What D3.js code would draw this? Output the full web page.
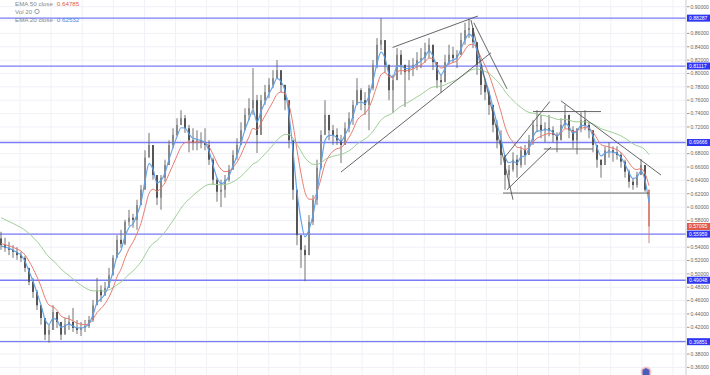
<!DOCTYPE html>
<html><head><meta charset="utf-8">
<script src="https://cdn.jsdelivr.net/npm/d3@7"></script>
<style>body{margin:0;background:#fff;overflow:hidden}svg{display:block;font-family:"Liberation Sans",Arial,sans-serif}</style>
</head><body><svg id="c" width="710" height="375"></svg>
<script>
// ---- data (weekly-ish bars) ----
const firstOpen = 0.553;
const highs = [0.563,0.554,0.548,0.543,0.540,0.533,0.527,0.506,0.494,0.476,0.453,0.431,0.424,0.453,0.443,0.428,0.434,0.438,0.449,0.431,0.428,0.431,0.437,0.461,0.494,0.483,0.488,0.509,0.528,0.558,0.566,0.581,0.596,0.590,0.611,0.633,0.685,0.711,0.671,0.641,0.648,0.671,0.700,0.718,0.733,0.745,0.738,0.723,0.718,0.715,0.712,0.718,0.700,0.674,0.644,0.641,0.648,0.663,0.685,0.703,0.727,0.748,0.763,0.808,0.768,0.768,0.783,0.793,0.805,0.820,0.802,0.778,0.733,0.678,0.611,0.558,0.543,0.588,0.618,0.671,0.715,0.760,0.738,0.723,0.718,0.708,0.727,0.742,0.760,0.793,0.778,0.772,0.783,0.820,0.853,0.883,0.843,0.813,0.798,0.838,0.835,0.813,0.820,0.823,0.832,0.838,0.846,0.853,0.843,0.817,0.798,0.828,0.843,0.840,0.835,0.861,0.876,0.882,0.868,0.843,0.813,0.793,0.775,0.753,0.730,0.715,0.674,0.663,0.682,0.678,0.691,0.693,0.708,0.730,0.745,0.738,0.727,0.738,0.721,0.712,0.733,0.753,0.738,0.721,0.715,0.742,0.745,0.727,0.715,0.691,0.671,0.691,0.697,0.691,0.691,0.682,0.671,0.656,0.644,0.653,0.672,0.662,0.626];
const lows = [0.536,0.533,0.528,0.524,0.521,0.518,0.503,0.483,0.464,0.446,0.424,0.401,0.397,0.428,0.419,0.401,0.410,0.416,0.413,0.410,0.407,0.413,0.419,0.428,0.467,0.458,0.467,0.483,0.498,0.524,0.539,0.543,0.572,0.569,0.566,0.603,0.648,0.678,0.641,0.603,0.596,0.638,0.663,0.688,0.706,0.723,0.711,0.682,0.685,0.685,0.688,0.685,0.663,0.633,0.608,0.600,0.614,0.638,0.656,0.671,0.693,0.715,0.730,0.738,0.681,0.715,0.753,0.763,0.778,0.793,0.772,0.745,0.688,0.611,0.543,0.509,0.489,0.536,0.573,0.603,0.656,0.715,0.700,0.693,0.693,0.666,0.693,0.712,0.723,0.753,0.745,0.738,0.715,0.775,0.808,0.835,0.802,0.760,0.741,0.793,0.798,0.750,0.790,0.796,0.805,0.808,0.816,0.823,0.805,0.778,0.771,0.790,0.813,0.816,0.808,0.828,0.843,0.853,0.838,0.798,0.768,0.760,0.738,0.712,0.688,0.663,0.626,0.629,0.653,0.644,0.659,0.663,0.678,0.693,0.712,0.703,0.697,0.706,0.697,0.682,0.703,0.718,0.703,0.688,0.679,0.712,0.715,0.703,0.682,0.659,0.644,0.668,0.674,0.668,0.671,0.659,0.644,0.629,0.626,0.629,0.650,0.623,0.546];
const closes = [0.543,0.539,0.536,0.533,0.528,0.524,0.509,0.488,0.473,0.453,0.434,0.409,0.416,0.443,0.428,0.409,0.424,0.428,0.419,0.416,0.419,0.422,0.431,0.453,0.476,0.468,0.479,0.498,0.524,0.551,0.545,0.578,0.584,0.581,0.603,0.626,0.674,0.693,0.648,0.614,0.644,0.663,0.693,0.708,0.723,0.733,0.718,0.700,0.696,0.700,0.697,0.693,0.671,0.641,0.623,0.626,0.641,0.656,0.678,0.693,0.715,0.738,0.748,0.760,0.708,0.760,0.772,0.783,0.793,0.805,0.783,0.760,0.700,0.626,0.558,0.536,0.528,0.578,0.611,0.659,0.708,0.738,0.715,0.708,0.700,0.693,0.718,0.733,0.753,0.775,0.760,0.753,0.778,0.813,0.843,0.850,0.813,0.775,0.790,0.828,0.813,0.802,0.808,0.813,0.820,0.823,0.832,0.843,0.817,0.790,0.787,0.817,0.828,0.823,0.828,0.850,0.865,0.868,0.847,0.813,0.783,0.772,0.753,0.723,0.700,0.678,0.648,0.656,0.671,0.663,0.685,0.678,0.700,0.723,0.723,0.715,0.718,0.715,0.708,0.700,0.723,0.738,0.715,0.700,0.718,0.730,0.723,0.715,0.693,0.671,0.663,0.685,0.685,0.682,0.678,0.668,0.653,0.638,0.633,0.648,0.663,0.626,0.571];
const emaPeriods = [20, 50, 200];
const emaSeeds = [0.540, 0.546, 0.587];
const weeksPerBar = 6.6;
const priceTicks = [0.36,0.38,0.40,0.42,0.44,0.46,0.48,0.50,0.52,0.54,0.56,0.58,0.60,0.62,0.64,0.66,0.68,0.70,0.72,0.74,0.76,0.78,0.80,0.82,0.84,0.86,0.88,0.90];
const levels = [0.88287, 0.81117, 0.69666, 0.55959, 0.49048, 0.39851];
const lastPrice = 0.57095;
const gridYears = d3.range(2000, 2022);
// trend lines: [barIndex, price] pairs
const trendLines = [
  [[97.9,0.839],[119.2,0.886]],
  [[85,0.6525],[122.5,0.831]],
  [[117.5,0.880],[128,0.611]],
  [[118.2,0.876],[126.5,0.777]],
  [[125.7,0.673],[137.2,0.758]],
  [[126.5,0.626],[137.5,0.690]],
  [[133,0.743],[150,0.743]],
  [[135.7,0.687],[148,0.687]],
  [[125.5,0.621],[162,0.621]],
  [[140,0.759],[165,0.648]]
];
const legend = [
  {label:"EMA 50 close", value:"0.64785", color:"#e0574f", y:5.5},
  {label:"Vol 20", value:"", color:"#888", y:13.5},
  {label:"EMA 20 close", value:"0.62532", color:"#4a8fe0", y:22}
];

// ---- chart ----
const svg = d3.select("#c");
const W = 710, H = 375, axisX = 686;
const x = d3.scaleLinear().domain([0, closes.length - 1]).range([1, 649]);
const xYear = d3.scaleLinear().domain([2000, 2021]).range([20, 673]);
const y = d3.scaleLinear().domain([0.36, 0.90]).range([367.4, 6.7]);

// grid
svg.append("g").selectAll("line").data(priceTicks).join("line")
  .attr("x1",0).attr("x2",axisX).attr("y1",d=>y(d)).attr("y2",d=>y(d))
  .attr("stroke","#f0f1f6").attr("stroke-width",1);
svg.append("g").selectAll("line").data(gridYears).join("line")
  .attr("x1",d=>xYear(d)).attr("x2",d=>xYear(d)).attr("y1",0).attr("y2",H)
  .attr("stroke","#f0f1f6").attr("stroke-width",1);

// level lines
svg.append("g").selectAll("line").data(levels).join("line")
  .attr("x1",0).attr("x2",axisX).attr("y1",d=>y(d)).attr("y2",d=>y(d))
  .attr("stroke","#7b7cf7").attr("stroke-width",1.3);

// EMA
const emaColors = ["#5f9fe6","#e8766b","#9ccc94"];
const emas = emaPeriods.map((n,k)=>{
  const a = 1 - Math.pow(1 - 2/(n+1), weeksPerBar);
  let e = emaSeeds[k];
  return closes.map(c => (e = e + a*(c - e)));
});
const line = d3.line().x((d,i)=>x(i)).y(d=>y(d)).curve(d3.curveMonotoneX);

// candles
const bars = closes.map((c,i)=>({i, o: i===0?firstOpen:closes[i-1], h: highs[i], l: lows[i], c}));
const last = bars.length - 1;
const g = svg.append("g");
g.selectAll("line").data(bars).join("line")
  .attr("x1",d=>x(d.i)).attr("x2",d=>x(d.i)).attr("y1",d=>y(d.h)).attr("y2",d=>y(d.l))
  .attr("stroke",d=>d.i===last?"#c77a74":"#626262").attr("stroke-width",0.9);
g.selectAll("rect").data(bars).join("rect")
  .attr("x",d=>x(d.i)-1).attr("width",2)
  .attr("y",d=>y(Math.max(d.o,d.c))).attr("height",d=>Math.max(0.8, Math.abs(y(d.o)-y(d.c))))
  .attr("fill",d=>d.i===last?"#d7877f":(d.c>=d.o?"#8a8a8a":"#555"));

// EMA lines on top
[2,1,0].forEach(k=>{
  svg.append("path").attr("d", line(emas[k])).attr("fill","none")
    .attr("stroke", emaColors[k]).attr("stroke-width", k===0?1.2:1).attr("stroke-opacity",0.95);
});

// trend lines
svg.append("g").selectAll("line").data(trendLines).join("line")
  .attr("x1",d=>x(d[0][0])).attr("y1",d=>y(d[0][1])).attr("x2",d=>x(d[1][0])).attr("y2",d=>y(d[1][1]))
  .attr("stroke","#555").attr("stroke-width",0.9);

// right axis
svg.append("rect").attr("x",axisX).attr("y",0).attr("width",W-axisX).attr("height",H).attr("fill","#fff");
svg.append("line").attr("x1",axisX).attr("x2",axisX).attr("y1",0).attr("y2",H).attr("stroke","#c9cbd1");
const badges = levels.map(v=>({v, c:"#2f36f2"})).concat([{v:lastPrice, c:"#e05a4a"}]);
const shownTicks = priceTicks.filter(t => badges.every(b => Math.abs(y(t) - y(b.v)) > 5));
const ax = svg.append("g");
ax.selectAll("line").data(priceTicks).join("line")
  .attr("x1",axisX+1).attr("x2",axisX+3.5).attr("y1",d=>y(d)).attr("y2",d=>y(d)).attr("stroke","#999");
ax.selectAll("text").data(shownTicks).join("text")
  .attr("x",axisX+4.5).attr("y",d=>y(d)+1.8).attr("font-size",5.1).attr("fill","#666")
  .text(d=>d3.format(".5f")(d));

// badges
const bg = svg.append("g");
bg.selectAll("rect").data(badges).join("rect")
  .attr("x",axisX+1).attr("y",d=>y(d.v)-3.5).attr("width",W-axisX-1).attr("height",7).attr("fill",d=>d.c);
bg.selectAll("text").data(badges).join("text")
  .attr("x",axisX+3).attr("y",d=>y(d.v)+1.9).attr("font-size",5.1).attr("fill","#fff")
  .text(d=>d3.format(".5f")(d.v));

// legend
const lg = svg.append("g").attr("font-size",6.2);
legend.forEach(L=>{
  const t = lg.append("text").attr("x",15).attr("y",L.y).attr("fill","#888");
  t.append("tspan").text(L.label);
  if (L.value) t.append("tspan").attr("dx",4).attr("fill",L.color).text(L.value);
});
lg.append("circle").attr("cx",37).attr("cy",11.5).attr("r",2.2).attr("fill","none").attr("stroke","#888").attr("stroke-width",0.8);

// logo
svg.append("circle").attr("cx",646).attr("cy",372).attr("r",5.5).attr("fill","#f3c4c8");
svg.append("path").attr("d","M642.5,375 L642.5,370 L646,368 L649.5,370 L649.5,375 Z").attr("fill","#4b5db8");
</script></body></html>
